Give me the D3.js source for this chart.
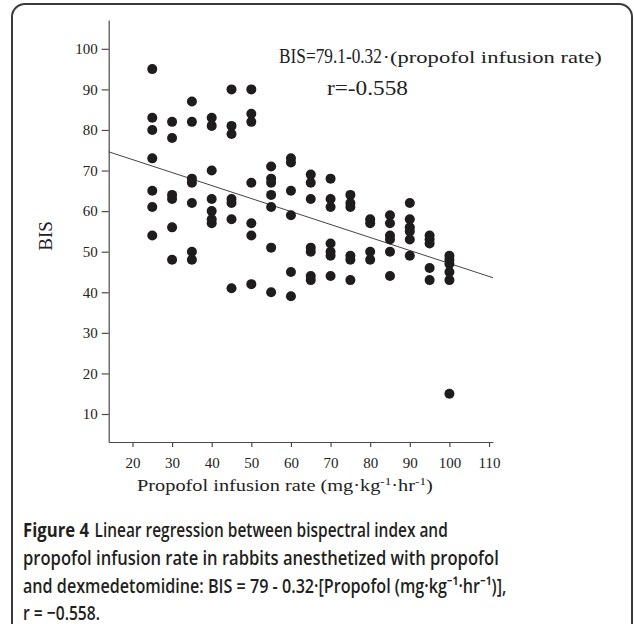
<!DOCTYPE html>
<html><head><meta charset="utf-8">
<script src="https://cdn.jsdelivr.net/npm/d3@7"></script>
<style>body{margin:0;background:#fff}svg{display:block}</style>
</head><body>
<svg id="c" width="634" height="624"></svg>
<script>
// ---- data ----
const rateGroups = [25, 30, 35, 40, 45, 50, 55, 60, 65, 70, 75, 80, 85, 90, 95, 100];
const bisGroups = [
  [95, 83, 80, 73, 65, 61, 54],
  [82, 78, 64, 63, 56, 48],
  [87, 82, 68, 67, 62, 50, 48],
  [83, 81, 70, 63, 60, 58, 57],
  [90, 81, 79, 63, 62, 58, 41],
  [90, 84, 82, 67, 57, 54, 42],
  [71, 68, 67, 64, 61, 51, 40],
  [73, 72, 65, 59, 45, 39],
  [69, 67, 63, 51, 50, 44, 43],
  [68, 63, 61, 52, 50, 49, 44],
  [64, 62, 61, 49, 48, 43],
  [58, 57, 50, 48],
  [59, 57, 54, 53, 50, 44],
  [62, 58, 56, 55, 53, 49],
  [54, 53, 52, 46, 43],
  [49, 48, 47, 45, 43, 15]
];
const xTicks = [20, 30, 40, 50, 60, 70, 80, 90, 100, 110];
const yTicks = [10, 20, 30, 40, 50, 60, 70, 80, 90, 100];
const xDomain = [14, 111];
const yDomain = [3.1, 107.1];
const regIntercept = 79.1;
const regSlope = -0.32;
const eqMain = "BIS=79.1-0.32";
const eqTail = "·(propofol infusion rate)";
const eqR = "r=-0.558";
const yTitle = "BIS";
const captionLabel = "Figure 4";
const captionLines = [
  "Linear regression between bispectral index and",
  "propofol infusion rate in rabbits anesthetized with propofol",
  "and dexmedetomidine: BIS = 79 - 0.32·[Propofol (mg·kg⁻¹·hr⁻¹)],",
  "r = −0.558."
];

// ---- drawing ----
const svg = d3.select("#c");
const serif = "'Liberation Serif','Times New Roman',serif";
const sans = "'Open Sans','Noto Sans',sans-serif";
const axisCol = "#4a4a4a";
const ink = "#1e1c1d";

// place text at (x, baseline y) and squeeze it horizontally to the given width
function fitText(sel, x, y, width) {
  const len = sel.node().getComputedTextLength();
  sel.attr("x", 0).attr("y", 0)
    .attr("transform", `translate(${x},${y}) scale(${width / len},1)`);
  return sel;
}

// frame
svg.append("rect").attr("x", 12).attr("y", 4).attr("width", 620).attr("height", 700)
  .attr("rx", 13).attr("fill", "none").attr("stroke", "#3a3a3a").attr("stroke-width", 2);

const x = d3.scaleLinear().domain(xDomain).range([108.7, 493]);
const y = d3.scaleLinear().domain(yDomain).range([442, 20]);

const gx = svg.append("g").attr("transform", "translate(0,442)")
  .call(d3.axisBottom(x).tickValues(xTicks).tickSize(5).tickSizeOuter(0).tickPadding(10));
const gy = svg.append("g").attr("transform", "translate(108.7,0)")
  .call(d3.axisLeft(y).tickValues(yTicks).tickSize(7).tickSizeOuter(0).tickPadding(4));
[gx, gy].forEach(g => {
  g.selectAll("path,line").attr("stroke", axisCol).attr("stroke-width", 1.2);
  g.selectAll("text").attr("font-family", serif).attr("font-size", 15).attr("fill", "#222");
});

// regression line
svg.append("line")
  .attr("x1", x(xDomain[0])).attr("y1", y(regIntercept + regSlope * xDomain[0]))
  .attr("x2", x(xDomain[1])).attr("y2", y(regIntercept + regSlope * xDomain[1]))
  .attr("stroke", "#444").attr("stroke-width", 1);

// points
const pts = [];
rateGroups.forEach((r, i) => bisGroups[i].forEach(b => pts.push({r, b})));
svg.append("g").selectAll("circle").data(pts).join("circle")
  .attr("cx", d => x(d.r)).attr("cy", d => y(d.b)).attr("r", 5).attr("fill", ink);

// equation text
fitText(svg.append("text").attr("font-family", serif).attr("font-size", 21).attr("fill", "#222").text(eqMain), 279, 63, 103);
fitText(svg.append("text").attr("font-family", serif).attr("font-size", 17).attr("fill", "#222").text(eqTail), 382.5, 63, 219.5);
fitText(svg.append("text").attr("font-family", serif).attr("font-size", 21).attr("fill", "#222").text(eqR), 327, 95, 81);

// y title
svg.append("text").attr("transform", "translate(52,236) rotate(-90)").attr("text-anchor", "middle")
  .attr("font-family", serif).attr("font-size", 19).attr("fill", "#222").text(yTitle);

// x title with superscripts
const xt = svg.append("text").attr("font-family", serif).attr("font-size", 17).attr("fill", "#222");
xt.append("tspan").text("Propofol infusion rate (mg·kg");
xt.append("tspan").attr("dy", -6).attr("font-size", 11).text("-1");
xt.append("tspan").attr("dy", 6).text("·hr");
xt.append("tspan").attr("dy", -6).attr("font-size", 11).text("-1");
xt.append("tspan").attr("dy", 6).text(")");
fitText(xt, 137, 491, 296);

// caption
fitText(svg.append("text").attr("font-family", sans).attr("font-size", 20).attr("font-weight", 700)
  .attr("fill", "#231f20").text(captionLabel), 23, 536.5, 66);
const capX = [94.5, 23, 23, 23];
const capBase = [536.5, 565, 593, 619.5];
const capLen = [353.5, 476, 484, 77];
captionLines.forEach((s, i) => {
  fitText(svg.append("text").attr("font-family", sans).attr("font-size", 20).attr("font-weight", 600)
    .attr("fill", "#231f20").text(s), capX[i], capBase[i], capLen[i]);
});
</script>
</body></html>
